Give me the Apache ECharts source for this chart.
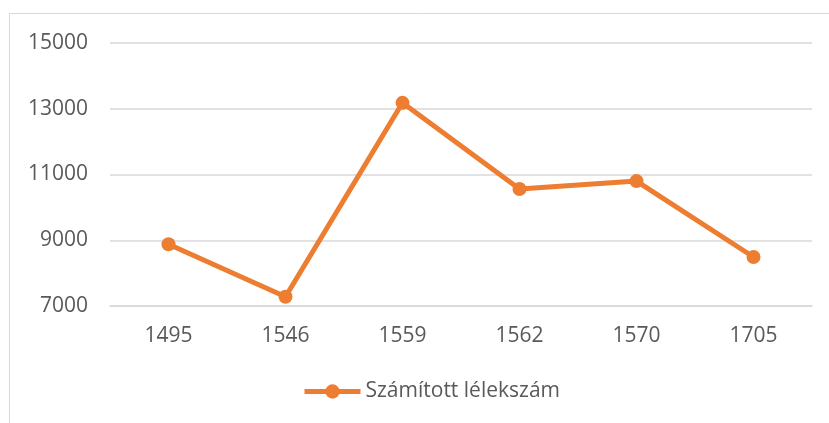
<!DOCTYPE html>
<html>
<head>
<meta charset="utf-8">
<script src="https://cdn.jsdelivr.net/npm/echarts@6/dist/echarts.min.js"></script>
<style>
	html, body { margin: 0; padding: 0; background: #fff; }
	#main { width: 829px; height: 423px; }
</style>
</head>
<body>
<div id="main"></div>
<script>
	// évek és számított lélekszám
	var years = ['1495', '1546', '1559', '1562', '1570', '1705'];
	var population = [8880, 7280, 13180, 10560, 10800, 8490];
	var seriesName = 'Számított lélekszám';

	var myChart = echarts.init(document.getElementById('main'));
	var font = '"Open Sans", sans-serif';

	var option = {
		animation: false,
		textStyle: { fontFamily: font },
		graphic: [{
			type: 'rect',
			shape: { x: 9.5, y: 13.5, width: 900, height: 500 },
			style: { fill: 'none', stroke: '#d9d9d9', lineWidth: 1 },
			silent: true
		}],
		grid: {
			left: 110,
			right: 17,
			top: 43,
			bottom: 117
		},
		legend: {
			data: [seriesName],
			left: 297,
			top: 376,
			itemWidth: 56,
			itemHeight: 18,
			itemGap: 4,
			lineStyle: { width: 5 },
			textStyle: { color: '#595959', fontSize: 21, fontFamily: font }
		},
		xAxis: {
			type: 'category',
			data: years,
			boundaryGap: true,
			axisLine: { lineStyle: { color: '#d9d9d9', width: 1.5 } },
			axisTick: { show: false },
			axisLabel: { color: '#595959', fontSize: 21, margin: 20, fontFamily: font }
		},
		yAxis: {
			type: 'value',
			min: 7000,
			max: 15000,
			interval: 1000,
			axisLine: { show: false },
			axisTick: { show: false },
			axisLabel: {
				color: '#595959',
				fontSize: 21,
				margin: 22,
				fontFamily: font,
				formatter: function (v) {
					return (v / 1000) % 2 === 1 ? String(v) : '';
				}
			},
			splitLine: {
				lineStyle: { color: ['#d9d9d9', 'rgba(0,0,0,0)'], width: 1.5 }
			}
		},
		series: [{
			name: seriesName,
			type: 'line',
			data: population,
			symbol: 'circle',
			symbolSize: 14,
			color: '#ed7d31',
			lineStyle: { width: 5, color: '#ed7d31' },
			itemStyle: { color: '#ed7d31' }
		}]
	};

	option && myChart.setOption(option);
</script>
</body>
</html>
